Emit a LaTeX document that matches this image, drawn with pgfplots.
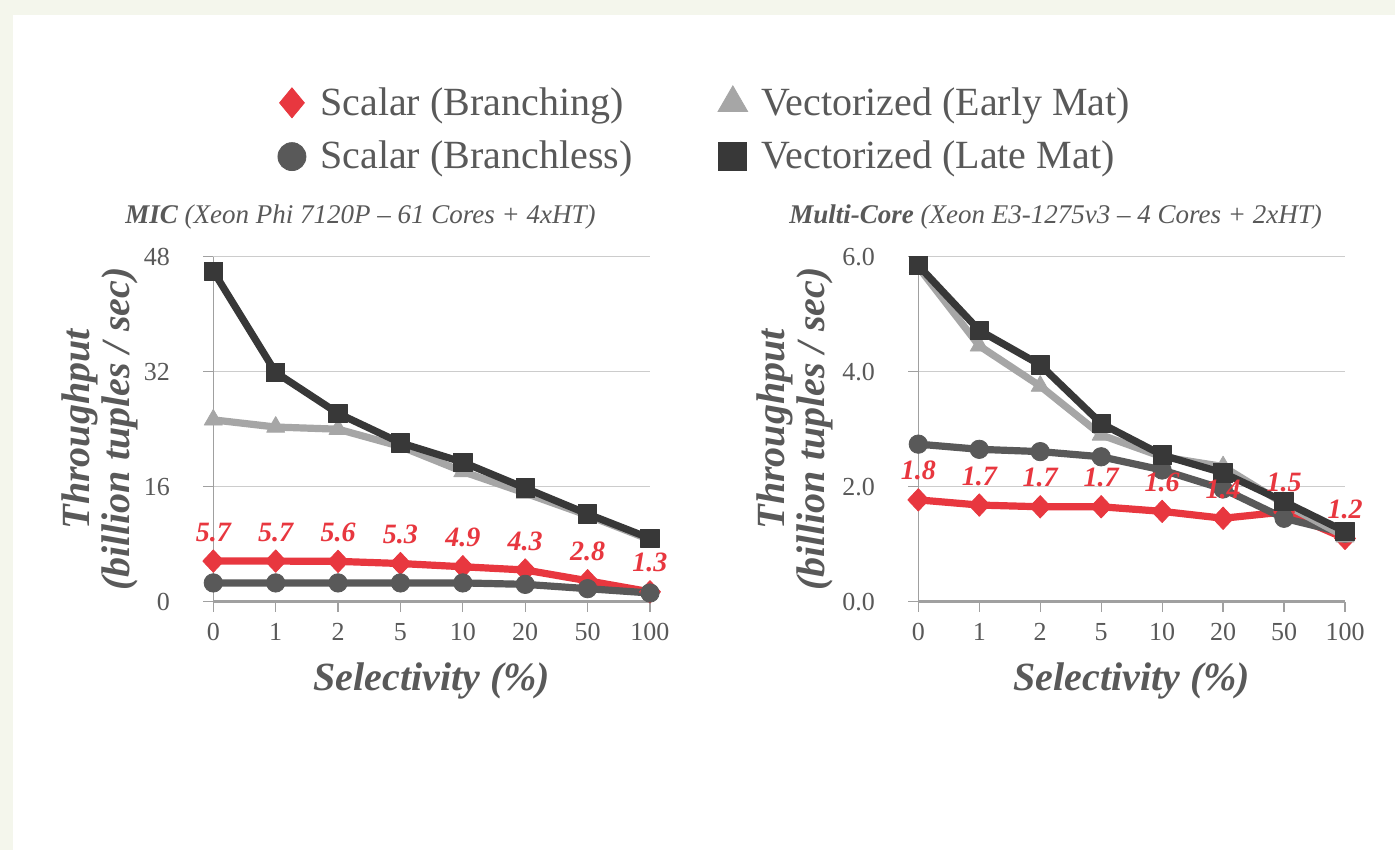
\documentclass[border=0pt]{standalone}
\usepackage{fontspec}
\setmainfont{Liberation Serif}
\usepackage{pgfplots}
\pgfplotsset{compat=1.18}
\usepackage{pgfplotstable}

\definecolor{bgcream}{RGB}{244,246,236}
\definecolor{txtgray}{RGB}{89,89,89}
\definecolor{cred}{RGB}{232,55,63}
\definecolor{cearly}{RGB}{166,166,166}
\definecolor{cbless}{RGB}{89,89,89}
\definecolor{clate}{RGB}{56,56,56}
\definecolor{cgrid}{RGB}{204,204,204}
\definecolor{caxis}{RGB}{160,160,160}

\pgfplotstableread{
x br brl bl early late
0 5.64 5.7 2.6 25.3 46.0
1 5.64 5.7 2.6 24.3 31.9
2 5.6  5.6 2.6 24.0 26.2
3 5.3  5.3 2.6 21.6 22.1
4 4.85 4.9 2.6 18.1 19.4
5 4.4  4.3 2.4 15.1 15.8
6 2.9  2.8 1.8 12.0 12.2
7 1.36 1.3 1.2 8.6  8.8
}\mictable

\pgfplotstableread{
x br brl bl early late
0 1.77 1.8 2.74 5.82 5.85
1 1.68 1.7 2.65 4.45 4.72
2 1.65 1.7 2.61 3.75 4.12
3 1.65 1.7 2.52 2.90 3.10
4 1.57 1.6 2.29 2.52 2.55
5 1.45 1.4 1.96 2.35 2.24
6 1.56 1.5 1.45 1.70 1.74
7 1.10 1.2 1.19 1.13 1.22
}\mctable

\pgfplotsset{
  common/.style={
    scale only axis, clip=false,
    xmin=0, xmax=7, ymin=0,
    axis x line*=bottom, axis y line*=left,
    x axis line style={draw=caxis, line width=1.1pt},
    y axis line style={draw=caxis, line width=0.6pt},
    xtick={0,...,7}, xticklabels={0,1,2,5,10,20,50,100},
    tick align=outside, major tick length=5pt,
    tick style={draw=caxis, line width=0.6pt},
    ymajorgrids, grid style={draw=cgrid, line width=0.6pt},
    tick label style={font=\fontsize{13}{15}\selectfont, text=txtgray, inner sep=0pt},
    xticklabel style={anchor=north, yshift=-5.5pt},
    yticklabel style={anchor=east, xshift=-16.5pt},
    every axis title/.style={at={(rel axis cs:0.5,1)}, anchor=center, font=\itshape\fontsize{13.5}{15}\selectfont, text=txtgray},
    every axis x label/.style={at={(rel axis cs:0.5,0)}, anchor=center, yshift=-39.7pt, font=\bfseries\itshape\fontsize{20}{20}\selectfont, text=txtgray},
    every axis y label/.style={at={(rel axis cs:0,0.5)}, anchor=south, rotate=90, align=center, inner sep=0pt, font=\bfseries\itshape\fontsize{20}{20}\selectfont, text=txtgray},
    xlabel={Selectivity (\%)},
    ylabel={Throughput\\(billion tuples / sec)},
  },
  sbr/.style={draw=cred, line width=3.6pt, line join=round, mark=diamond*, mark size=5.6pt, mark options={solid, fill=cred, draw=cred, line width=0.4pt, xscale=1.25}, forget plot},
  sbl/.style={draw=cbless, line width=3.6pt, line join=round, mark=*, mark size=4.6pt, mark options={solid, fill=cbless, draw=cbless, line width=0.4pt}, forget plot},
  sea/.style={draw=cearly, line width=3.6pt, line join=round, mark=triangle*, mark size=5.2pt, mark options={solid, fill=cearly, draw=cearly, line width=0.4pt}, forget plot},
  sla/.style={draw=clate, line width=3.6pt, line join=round, mark=square*, mark size=4.6pt, mark options={solid, fill=clate, draw=clate, line width=0.4pt}, forget plot},
  lbl/.style={draw=none, mark=none, forget plot, nodes near coords, point meta=explicit symbolic,
    every node near coord/.style={anchor=center, yshift=14.5pt, inner sep=0pt, text=cred, font=\bfseries\itshape\fontsize{14}{16}\selectfont}},
}

\begin{document}
\begin{tikzpicture}
\fill[bgcream] (0,0) rectangle (697.5pt,425pt);
\fill[white] (6.5pt,0) rectangle (697.5pt,417.5pt);
\useasboundingbox (0,0) rectangle (697.5pt,425pt);

\begin{axis}[common,
  at={(106.65pt,124.2pt)}, anchor=south west,
  width=218.35pt, height=172.4pt,
  ymax=48, ytick={0,16,32,48}, yticklabels={0,16,32,48},
  title={\textbf{MIC} (Xeon Phi 7120P -- 61 Cores + 4xHT)},
  title style={xshift=-35.6pt, yshift=19.85pt},
  ylabel style={yshift=37.6pt},
  legend columns=2,
  legend image code/.code={\path (0pt,0pt) (23pt,0pt); \draw[#1] plot coordinates {(11pt,0pt)};},
  legend style={at={(0.1279,1.3685)}, anchor=west, draw=none, fill=none, inner sep=0pt,
    row sep=7.5pt, font=\fontsize{20}{22}\selectfont, text=txtgray,
    cells={anchor=west},
    /tikz/every even column/.append style={column sep=37pt}},
]
\addlegendimage{only marks, mark=diamond*, mark size=7.5pt, mark options={fill=cred, draw=cred, xscale=1.1}}
\addlegendimage{only marks, mark=triangle*, mark size=8.5pt, mark options={fill=cearly, draw=cearly}}
\addlegendimage{only marks, mark=*, mark size=7pt, mark options={fill=cbless, draw=cbless}}
\addlegendimage{only marks, mark=square*, mark size=7pt, mark options={fill=clate, draw=clate}}
\legend{Scalar (Branching), Vectorized (Early Mat), Scalar (Branchless), Vectorized (Late Mat)}

\addplot[sbr] table[x=x, y=br] {\mictable};
\addplot[sbl] table[x=x, y=bl] {\mictable};
\addplot[sea] table[x=x, y=early] {\mictable};
\addplot[sla] table[x=x, y=late] {\mictable};
\addplot[lbl] table[x=x, y=br, meta=brl] {\mictable};
\end{axis}

\begin{axis}[common,
  at={(459.15pt,124.2pt)}, anchor=south west,
  width=213.35pt, height=172.4pt,
  ymax=6, ytick={0,2,4,6}, yticklabels={0.0,2.0,4.0,6.0},
  title={\textbf{Multi-Core} (Xeon E3-1275v3 -- 4 Cores + 2xHT)},
  title style={xshift=-38pt, yshift=19.85pt},
  ylabel style={yshift=42.6pt},
]
\addplot[sbr] table[x=x, y=br] {\mctable};
\addplot[sbl] table[x=x, y=bl] {\mctable};
\addplot[sea] table[x=x, y=early] {\mctable};
\addplot[sla] table[x=x, y=late] {\mctable};
\addplot[lbl] table[x=x, y=br, meta=brl] {\mctable};
\end{axis}
\end{tikzpicture}
\end{document}
